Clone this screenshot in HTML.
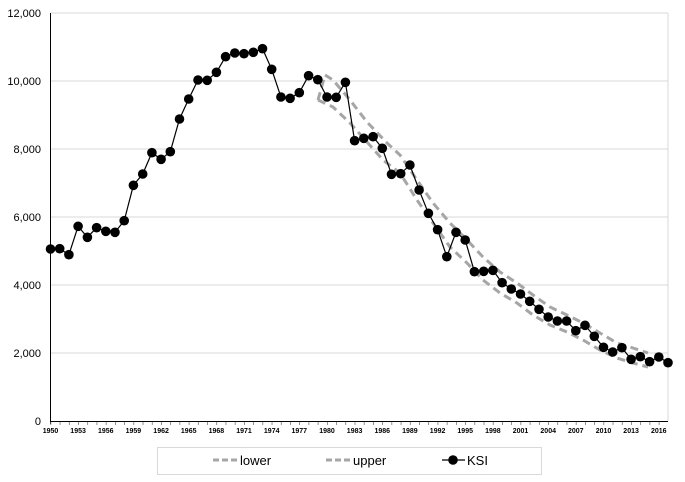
<!DOCTYPE html>
<html><head><meta charset="utf-8"><style>
body{margin:0;background:#fff;}
svg{display:block;font-family:"Liberation Sans",Arial,sans-serif;}
</style></head><body>
<svg width="685" height="482" viewBox="0 0 685 482" xmlns="http://www.w3.org/2000/svg">
<defs>
<marker id="dot" markerUnits="userSpaceOnUse" markerWidth="12" markerHeight="12" refX="6" refY="6"><circle cx="6" cy="6" r="4.8" fill="#000"/></marker>
</defs>
<g stroke="#d9d9d9" stroke-width="1">
<line x1="50" y1="13" x2="668" y2="13"/>
<line x1="50" y1="81" x2="668" y2="81"/>
<line x1="50" y1="149" x2="668" y2="149"/>
<line x1="50" y1="217" x2="668" y2="217"/>
<line x1="50" y1="285" x2="668" y2="285"/>
<line x1="50" y1="353" x2="668" y2="353"/>
<line x1="668" y1="13" x2="668" y2="421"/>
</g>
<line x1="50.5" y1="13" x2="50.5" y2="421" stroke="#000" stroke-width="1"/>
<line x1="50" y1="421.5" x2="668" y2="421.5" stroke="#000" stroke-width="1"/>
<g font-size="11" text-anchor="end" fill="#000">
<text x="41" y="17">12,000</text>
<text x="41" y="85">10,000</text>
<text x="41" y="153">8,000</text>
<text x="41" y="221">6,000</text>
<text x="41" y="289">4,000</text>
<text x="41" y="357">2,000</text>
<text x="41" y="425">0</text>
</g>
<g font-size="7" font-weight="bold" text-anchor="middle" fill="#000">
<text x="50.5" y="433">1950</text><text x="78.1" y="433">1953</text><text x="105.8" y="433">1956</text><text x="133.4" y="433">1959</text><text x="161.1" y="433">1962</text><text x="188.7" y="433">1965</text><text x="216.4" y="433">1968</text><text x="244" y="433">1971</text><text x="271.7" y="433">1974</text><text x="299.3" y="433">1977</text><text x="327" y="433">1980</text><text x="354.6" y="433">1983</text><text x="382.3" y="433">1986</text><text x="409.9" y="433">1989</text><text x="437.6" y="433">1992</text><text x="465.2" y="433">1995</text><text x="492.9" y="433">1998</text><text x="520.5" y="433">2001</text><text x="548.2" y="433">2004</text><text x="575.8" y="433">2007</text><text x="603.5" y="433">2010</text><text x="631.1" y="433">2013</text><text x="658.8" y="433">2016</text>
</g>
<path d="M50.5 421v3" stroke="#000" stroke-width="0.6" stroke-dasharray="" />
<line x1="50.5" y1="423.5" x2="668" y2="423.5" stroke="#000" stroke-width="3" stroke-dasharray="0.7 8.516" opacity="0.6"/>
<g fill="none" stroke="#a6a6a6" stroke-width="3" stroke-dasharray="8 5">
<polyline points="318,100 325,75 333,80 350,100 367,122 387,143 400,155 417,180 433,203 450,223 467,240 483,257 500,272 517,283 533,295 550,307 567,315 583,323 600,333 617,343 633,348 648,353"/>
<polyline points="318,100 333,107 350,123 367,142 383,160 400,173 417,200 433,223 450,247 467,263 483,280 500,293 517,303 533,315 550,325 567,332 583,340 600,350 617,358 633,363 648,367"/>
</g>
<polyline fill="none" stroke="#000" stroke-width="1.2" marker-start="url(#dot)" marker-mid="url(#dot)" marker-end="url(#dot)" points="50.5,249 59.7,248.7 68.9,254.7 78.1,226.3 87.4,237.3 96.6,227.7 105.8,231.3 115,232.3 124.2,220.7 133.4,185.3 142.7,174 151.9,152.7 161.1,159.3 170.3,151.7 179.5,119 188.7,99 198,80 207.2,80.3 216.4,72.3 225.6,56.7 234.8,53 244,53.7 253.3,52.3 262.5,48.7 271.7,69.3 280.9,97 290.1,98.3 299.3,92.7 308.6,75.7 317.8,79.7 327,97 336.2,97.3 345.4,82.3 354.6,140.7 363.8,138.3 373.1,136.7 382.3,148.3 391.5,174.3 400.7,173.7 409.9,165 419.1,190 428.4,213.3 437.6,229.7 446.8,256.7 456,232.3 465.2,240 474.4,271.7 483.7,271.3 492.9,270.3 502.1,282.7 511.3,289 520.5,294 529.7,301.3 539,309.3 548.2,317 557.4,321 566.6,321 575.8,330.7 585,325.3 594.3,336.3 603.5,347.3 612.7,352 621.9,347.7 631.1,359.3 640.3,356.7 649.6,361.7 658.8,357 668,362.7"/>
<rect x="157.5" y="447.5" width="384" height="27" fill="#fff" stroke="#d9d9d9"/>
<g stroke="#a6a6a6" stroke-width="3" stroke-dasharray="6 3">
<line x1="213" y1="460" x2="240" y2="460"/>
<line x1="326" y1="460" x2="353" y2="460"/>
</g>
<line x1="442" y1="460" x2="465" y2="460" stroke="#000" stroke-width="1.2"/>
<circle cx="453" cy="460" r="4.8" fill="#000"/>
<g font-size="13" fill="#000">
<text x="240" y="465">lower</text>
<text x="353" y="465">upper</text>
<text x="467" y="465">KSI</text>
</g>
</svg>
</body></html>
